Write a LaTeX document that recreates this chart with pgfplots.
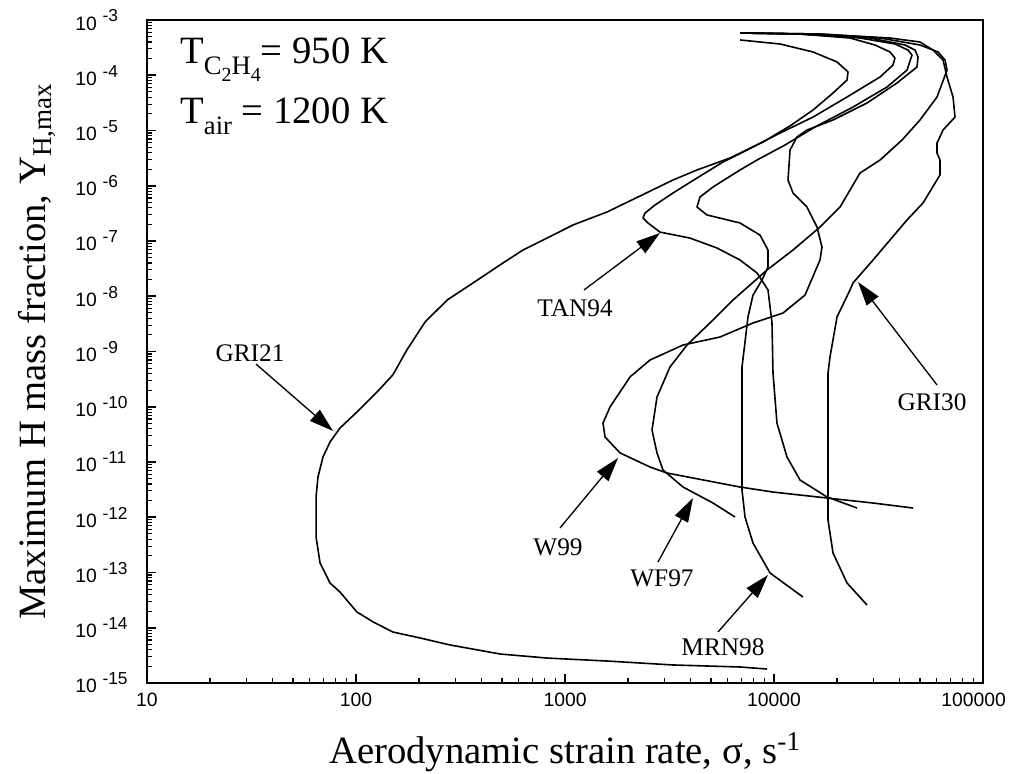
\documentclass[border=0pt]{standalone}
\usepackage{fontspec}
\setmainfont{Liberation Serif}
\newfontfamily\arial{Liberation Sans}
\usepackage{pgfplots}
\pgfplotsset{compat=1.18}
\usetikzlibrary{arrows.meta}

\newcommand{\ytl}[1]{{\arial\fontsize{14.5}{14.5}\selectfont 10\hspace{0.3em}\raisebox{0.42em}{\fontsize{13}{13}\selectfont #1}}}
\newcommand{\xtl}[1]{{\arial\fontsize{14.5}{14.5}\selectfont #1}}
\newcommand{\sub}[1]{\raisebox{-0.3em}{\fontsize{20}{20}\selectfont #1}}
\newcommand{\ssub}[1]{\raisebox{-0.25em}{\fontsize{15}{15}\selectfont #1}}

\begin{document}
\begin{tikzpicture}[x=1pt,y=1pt]
\path[use as bounding box] (-110.25,-68.25) rectangle (647.25,512.25);
\begin{axis}[
  at={(0,0)}, anchor=south west,
  scale only axis, width=627pt, height=497.25pt,
  xmode=log, ymode=log,
  xmin=10, xmax=100000, ymin=1e-15, ymax=1e-3,
  tick pos=left, tick align=inside,
  axis line style={line width=1.1pt},
  major tick length=6.5pt, minor tick length=3.5pt,
  every major tick/.style={line width=1.4pt, black},
  every minor tick/.style={line width=0.9pt, black},
  xtick={10,100,1000,10000,100000},
  xticklabels={\xtl{10},\xtl{100},\xtl{1000},\xtl{10000},\xtl{\hspace*{-14pt}100000}},
  minor xtick={20,30,40,50,60,70,80,90,200,300,400,500,600,700,800,900,2000,3000,4000,5000,6000,7000,8000,9000,20000,30000,40000,50000,60000,70000,80000,90000},
  ytick={1e-15,1e-14,1e-13,1e-12,1e-11,1e-10,1e-9,1e-8,1e-7,1e-6,1e-5,1e-4,1e-3},
  yticklabels={\ytl{-15},\ytl{-14},\ytl{-13},\ytl{-12},\ytl{-11},\ytl{-10},\ytl{-9},\ytl{-8},\ytl{-7},\ytl{-6},\ytl{-5},\ytl{-4},\ytl{-3}},
  minor ytick={2e-15,3e-15,4e-15,5e-15,6e-15,7e-15,8e-15,9e-15,
    2e-14,3e-14,4e-14,5e-14,6e-14,7e-14,8e-14,9e-14,
    2e-13,3e-13,4e-13,5e-13,6e-13,7e-13,8e-13,9e-13,
    2e-12,3e-12,4e-12,5e-12,6e-12,7e-12,8e-12,9e-12,
    2e-11,3e-11,4e-11,5e-11,6e-11,7e-11,8e-11,9e-11,
    2e-10,3e-10,4e-10,5e-10,6e-10,7e-10,8e-10,9e-10,
    2e-9,3e-9,4e-9,5e-9,6e-9,7e-9,8e-9,9e-9,
    2e-8,3e-8,4e-8,5e-8,6e-8,7e-8,8e-8,9e-8,
    2e-7,3e-7,4e-7,5e-7,6e-7,7e-7,8e-7,9e-7,
    2e-6,3e-6,4e-6,5e-6,6e-6,7e-6,8e-6,9e-6,
    2e-5,3e-5,4e-5,5e-5,6e-5,7e-5,8e-5,9e-5,
    2e-4,3e-4,4e-4,5e-4,6e-4,7e-4,8e-4,9e-4},
  xticklabel style={yshift=-4pt},
  yticklabel style={anchor=west, xshift=-54pt, inner sep=0pt},
  xlabel={Aerodynamic strain rate, σ, s\textsuperscript{-1}},
  ylabel={Maximum H mass fraction, Y\textsubscript{H,max}},
  xlabel style={font=\fontsize{29}{31}\selectfont, at={(axis description cs:0.5,-0.1207)}, anchor=base},
  ylabel style={font=\fontsize{29}{31}\selectfont, at={(axis description cs:-0.122,0.5)}, anchor=base},
  clip=false,
  crv/.style={black, solid, line width=1.2pt, line join=round, mark=none},
]
% GRI21
\addplot[crv] coordinates {
(6880,4.35e-4) (10690,3.68e-4) (15370,2.64e-4) (20020,1.74e-4) (22600,1.15e-4)
(22360,8.20e-5) (19160,4.77e-5) (15370,2.35e-5) (11930,1.21e-5) (8858,6.19e-6)
(6160,3.18e-6) (4281,1.93e-6) (3286,1.27e-6) (2285,6.52e-7) (1589,3.35e-7)
(1092,1.95e-7) (820,1.13e-7) (629.5,6.87e-8) (505,4.00e-8) (363,1.74e-8)
(273,8.55e-9) (214,3.42e-9) (175,1.06e-9) (150,3.76e-10) (126,1.85e-10)
(101,8.03e-11) (83.8,4.12e-11) (75.1,2.30e-11) (69.5,1.23e-11) (65.8,5.36e-12)
(64.4,2.33e-12) (64.4,4.40e-13) (67.3,1.49e-13) (75.1,6.46e-14) (83.8,4.44e-14)
(101,1.93e-14) (121,1.27e-14) (150,8.38e-15) (203,6.52e-15) (282,4.88e-15)
(489,3.35e-15) (820,2.83e-15) (1589,2.50e-15) (3286,2.12e-15) (6877,1.95e-15)
(9259,1.79e-15)
};
% TAN94
\addplot[crv] coordinates {
(6880,5.82e-4) (13320,5.58e-4) (23100,4.72e-4) (30420,3.53e-4) (35890,2.64e-4)
(37910,2.05e-4) (37100,1.53e-4) (32160,9.30e-5) (22360,4.04e-5) (15370,1.75e-5)
(10690,9.01e-6) (7430,4.44e-6) (5702,2.69e-6) (4281,1.38e-6) (3286,7.39e-7)
(2694,4.48e-7) (2415,3.21e-7) (2362,2.61e-7) (2495,2.12e-7) (2848,1.45e-7)
(3963,1.13e-7) (5337,7.47e-8) (6877,4.53e-8) (8293,2.64e-8) (9361,1.30e-8)
(9781,3.28e-9) (9890,4.08e-10) (10330,5.08e-11) (11540,1.23e-11) (13320,4.72e-12)
(17930,2.33e-12) (24960,1.47e-12)
};
% MRN98
\addplot[crv] coordinates {
(6880,5.82e-4) (13320,5.58e-4) (25790,4.72e-4) (37910,3.68e-4) (43760,2.86e-4)
(45750,2.32e-4) (43280,1.24e-4) (34730,6.13e-5) (23880,2.66e-5) (15720,1.16e-5)
(11290,5.47e-6) (8293,2.92e-6) (6877,1.93e-6) (5106,9.49e-7) (4425,6.26e-7)
(4281,4.12e-7) (4780,2.96e-7) (6877,2.12e-7) (8570,1.28e-7) (9361,6.87e-8)
(9361,3.38e-8) (8762,1.97e-8) (7934,1.05e-8) (7508,4.21e-9) (7030,5.24e-10)
(7030,3.11e-12) (7265,1.01e-12) (7934,3.42e-13) (9571,9.80e-14) (13760,3.60e-14)
};
% W99
\addplot[crv] coordinates {
(6880,5.82e-4) (13320,5.58e-4) (28800,4.72e-4) (42350,3.53e-4) (47280,2.86e-4)
(48870,2.14e-4) (48330,1.41e-4) (38760,7.24e-5) (27860,3.15e-5) (19160,1.55e-5)
(14380,1.02e-5) (12880,7.63e-6) (11930,4.44e-6) (11670,1.27e-6) (12330,7.39e-7)
(14380,4.12e-7) (16060,1.79e-7) (16970,7.78e-8) (16600,4.53e-8) (14070,1.05e-8)
(11040,4.97e-9) (7934,3.28e-9) (5514,1.83e-9) (3669,1.31e-9) (2551,7.02e-10)
(2046,3.46e-10) (1642,9.90e-11) (1520,5.08e-11) (1554,2.84e-11) (1834,1.46e-11)
(2551,8.12e-12) (3076,6.32e-12) (6877,3.53e-12) (9890,2.86e-12) (17930,2.23e-12)
(29770,1.81e-12) (46260,1.47e-12)
};
% WF97
\addplot[crv] coordinates {
(6880,5.82e-4) (16600,5.58e-4) (32160,4.72e-4) (49950,3.53e-4) (60920,2.64e-4)
(65810,1.89e-4) (67270,1.24e-4) (60250,4.04e-5) (49950,1.55e-5) (40970,6.73e-6)
(32160,2.92e-6) (25790,1.70e-6) (20700,4.12e-7) (16600,1.79e-7) (12330,6.87e-8)
(9259,2.99e-8) (6367,8.55e-9) (5106,3.72e-9) (3834,1.31e-9) (3179,5.24e-10)
(2755,1.50e-10) (2608,3.79e-11) (2755,1.46e-11) (2943,7.17e-12) (3669,3.53e-12)
(5106,1.81e-12) (6509,1.01e-12)
};
% GRI30
\addplot[crv] coordinates {
(6880,5.82e-4) (16600,5.58e-4) (35890,4.72e-4) (49950,4.00e-4) (57660,2.86e-4)
(64380,1.89e-4) (67270,9.30e-5) (71880,4.04e-5) (73470,1.75e-5) (64380,1.02e-5)
(60250,5.94e-6) (60250,3.92e-6) (62270,2.92e-6) (62270,1.57e-6) (51630,4.87e-7)
(43280,2.40e-7) (29770,4.53e-8) (23880,1.74e-8) (23100,1.30e-8) (20020,4.21e-9)
(18530,7.95e-10) (18130,4.08e-10) (18130,8.92e-13) (19160,2.25e-13) (22360,6.46e-14)
(27860,2.58e-14)
};
% thick left and bottom axis lines
\draw[line width=2pt] (rel axis cs:0,1) -- (rel axis cs:0,0) -- (rel axis cs:1,0);
% temperature annotation
\node[anchor=base west, inner sep=0pt, font=\fontsize{29}{31}\selectfont] at (rel axis cs:0.0395,0.935) {T\sub{C\ssub{2}H\ssub{4}}= 950 K};
\node[anchor=base west, inner sep=0pt, font=\fontsize{29}{31}\selectfont] at (rel axis cs:0.0395,0.8446) {T\sub{air} = 1200 K};
% curve labels and arrows
\tikzset{lab/.style={font=\fontsize{19}{19}\selectfont, inner sep=0pt},
         arr/.style={line width=1pt, -{Triangle[length=18pt,width=11pt]}}}
\node[lab] at (rel axis cs:0.1232,0.4977) {GRI21};
\draw[arr] (rel axis cs:0.1304,0.4811) -- (rel axis cs:0.2225,0.3801);
\node[lab] at (rel axis cs:0.512,0.5656) {TAN94};
\draw[arr] (rel axis cs:0.5227,0.5928) -- (rel axis cs:0.6136,0.6787);
\node[lab] at (rel axis cs:0.939,0.4238) {GRI30};
\draw[arr] (rel axis cs:0.945,0.4495) -- (rel axis cs:0.8505,0.6048);
\node[lab] at (rel axis cs:0.4916,0.2051) {W99};
\draw[arr] (rel axis cs:0.494,0.2338) -- (rel axis cs:0.5634,0.3394);
\node[lab] at (rel axis cs:0.616,0.1584) {WF97};
\draw[arr] (rel axis cs:0.6112,0.1825) -- (rel axis cs:0.6531,0.279);
\node[lab] at (rel axis cs:0.689,0.0543) {MRN98};
\draw[arr] (rel axis cs:0.683,0.0769) -- (rel axis cs:0.7428,0.1629);
\end{axis}
\end{tikzpicture}
\end{document}
